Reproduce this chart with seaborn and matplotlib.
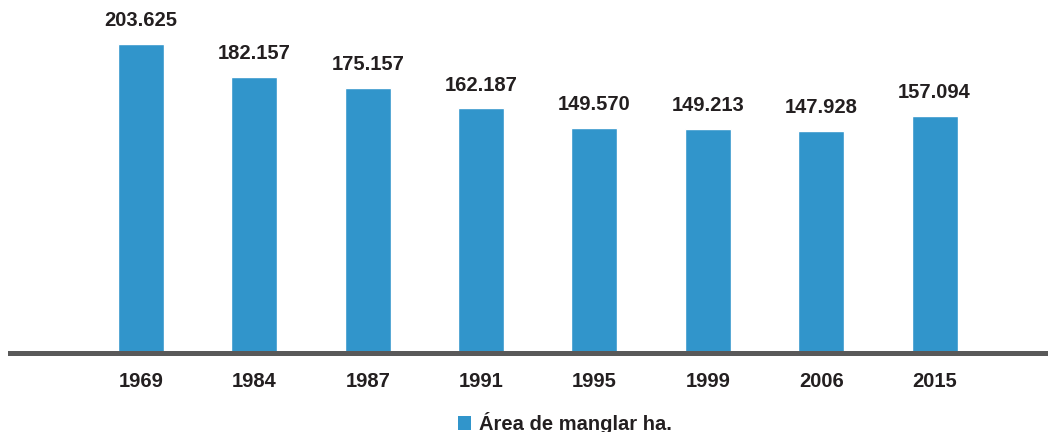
"""Bar chart of mangrove area (ha) by survey year."""
import matplotlib
matplotlib.use('Agg')
import matplotlib.pyplot as plt
from matplotlib.patches import Patch
import pandas as pd
import seaborn as sns

years = ['1969', '1984', '1987', '1991', '1995', '1999', '2006', '2015']
area_ha = [203625, 182157, 175157, 162187, 149570, 149213, 147928, 157094]
series_name = 'Área de manglar ha.'

BAR_COLOR = '#3195cb'
TEXT_COLOR = '#231f20'
AXIS_COLOR = '#595959'


def fmt(v):
    return f'{v:,}'.replace(',', '.')


def plot_chart(out_file):
    sns.set_style('white')
    plt.rcParams['font.family'] = ['Liberation Sans', 'DejaVu Sans']

    df = pd.DataFrame({'year': years, 'area': area_ha})

    fig = plt.figure(figsize=(10.48, 4.32), dpi=100)
    ax = fig.add_axes([10 / 1048, 79 / 432, 1038 / 1048, 353 / 432])
    sns.barplot(data=df, x='year', y='area', color=BAR_COLOR, width=0.406,
                saturation=1, ax=ax)

    for i, v in enumerate(area_ha):
        ax.annotate(fmt(v), (i, v), xytext=(0, 10), textcoords='offset points',
                    ha='center', va='bottom', fontsize=14.5, fontweight='bold',
                    color=TEXT_COLOR)

    ax.set_xlim(-1.155, 8.0)
    ax.set_ylim(5000, 231900)
    ax.set_xlabel('')
    ax.set_ylabel('')
    ax.set_yticks([])
    for side in ['top', 'left', 'right']:
        ax.spines[side].set_visible(False)
    ax.spines['bottom'].set_color(AXIS_COLOR)
    ax.spines['bottom'].set_linewidth(3.6)
    ax.tick_params(axis='x', length=0, pad=13.5, labelsize=14.5, labelcolor=TEXT_COLOR)
    for lbl in ax.get_xticklabels():
        lbl.set_fontweight('bold')

    handle = Patch(facecolor=BAR_COLOR, edgecolor='none')
    fig.legend([handle], [series_name], loc='center',
               bbox_to_anchor=(565 / 1048, 1 - 423 / 432), frameon=False,
               prop={'size': 14.5, 'weight': 'bold'}, labelcolor=TEXT_COLOR,
               handlelength=0.62, handleheight=0.72, handletextpad=0.4)

    fig.savefig(out_file, dpi=100)
    plt.close(fig)


if __name__ == '__main__':
    plot_chart('out.png')
